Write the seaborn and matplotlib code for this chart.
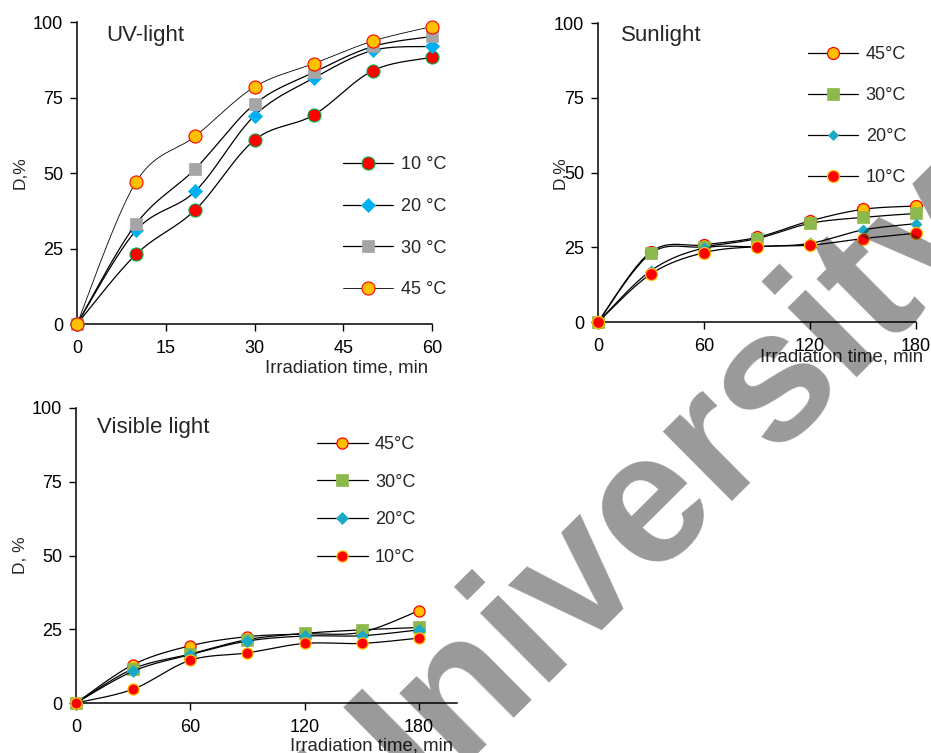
import numpy as np
import pandas as pd
import matplotlib
matplotlib.use("Agg")
import matplotlib.pyplot as plt
import seaborn as sns
from matplotlib.lines import Line2D

sns.set_theme(style="ticks")
plt.rcParams['font.family'] = ['Liberation Sans', 'DejaVu Sans']

# ---------------- data ----------------
uv_time = [0, 10, 20, 30, 40, 50, 60]
uv_10 = [0, 23.1, 37.8, 60.9, 69.2, 83.9, 88.3]
uv_20 = [0, 31.0, 44.0, 69.0, 81.4, 90.6, 91.9]
uv_30 = [0, 33.2, 51.4, 72.8, 83.3, 91.9, 95.2]
uv_45 = [0, 47.1, 62.2, 78.5, 86.2, 93.7, 98.5]
uv_labels = ["10 °C", "20 °C", "30 °C", "45 °C"]

sun_time = [0, 30, 60, 90, 120, 150, 180]
sun_45 = [0, 23.5, 25.8, 28.3, 33.8, 37.7, 38.8]
sun_30 = [0, 23.0, 25.2, 27.9, 33.0, 35.0, 36.3]
sun_20 = [0, 17.2, 24.7, 25.2, 26.3, 30.8, 32.9]
sun_10 = [0, 16.1, 23.2, 25.2, 25.7, 27.9, 29.7]

vis_time = [0, 30, 60, 90, 120, 150, 180]
vis_45 = [0, 13.0, 19.4, 22.5, 23.4, 24.0, 31.3]
vis_30 = [0, 11.6, 16.6, 21.5, 23.6, 24.8, 25.6]
vis_20 = [0, 10.8, 16.4, 21.0, 22.7, 22.8, 24.8]
vis_10 = [0, 4.7, 14.5, 17.0, 20.2, 20.2, 22.0]
sv_labels = ["45°C", "30°C", "20°C", "10°C"]

uv_ticks = [0, 15, 30, 45, 60]
long_ticks = [0, 60, 120, 180]
y_ticks = [0, 25, 50, 75, 100]

# ---------------- styles ----------------
ORANGE = "#FFC000"
RED = "#FF0000"
GREEN_EDGE = "#00B050"
BLUE = "#00B0F0"
GREY = "#A5A5A5"
GREEN = "#8CB84C"
TEAL = "#19AAC8"

uv_styles = [
    dict(marker="o", s=9.4, fc=RED, ec=GREEN_EDGE, lw=0.8),
    dict(marker="D", s=7.2, fc=BLUE, ec=BLUE, lw=0.5),
    dict(marker="s", s=8.6, fc=GREY, ec=GREY, lw=0.5),
    dict(marker="o", s=9.4, fc=ORANGE, ec=RED, lw=0.8),
]
sun_styles = [
    dict(marker="o", s=8.6, fc=ORANGE, ec=RED, lw=0.9),
    dict(marker="s", s=8.6, fc=GREEN, ec=GREEN, lw=0.5),
    dict(marker="D", s=5.6, fc=TEAL, ec=TEAL, lw=0.5),
    dict(marker="o", s=8.6, fc=RED, ec=ORANGE, lw=0.9),
]
vis_styles = [
    dict(marker="o", s=8.0, fc=ORANGE, ec=RED, lw=0.9),
    dict(marker="s", s=8.0, fc=GREEN, ec=GREEN, lw=0.5),
    dict(marker="D", s=6.0, fc=TEAL, ec=TEAL, lw=0.5),
    dict(marker="o", s=8.0, fc=RED, ec=ORANGE, lw=0.9),
]

W, H = 931, 753
fig = plt.figure(figsize=(W / 100, H / 100), dpi=100)


def px_axes(l, r, t, b):
    return fig.add_axes([l / W, 1 - b / H, (r - l) / W, (b - t) / H])


def smooth(x, y, n=24):
    x = np.asarray(x, float)
    y = np.asarray(y, float)
    P = np.column_stack([x, y])
    P = np.vstack([P[0], P, P[-1]])
    t = np.linspace(0, 1, n)[:, None]
    out = []
    for i in range(len(x) - 1):
        p0, p1, p2, p3 = P[i], P[i + 1], P[i + 2], P[i + 3]
        c1 = p1 + (p2 - p0) / 6
        c2 = p2 - (p3 - p1) / 6
        seg = ((1 - t) ** 3) * p1 + 3 * ((1 - t) ** 2) * t * c1 + 3 * (1 - t) * t ** 2 * c2 + t ** 3 * p2
        out.append(seg if i == 0 else seg[1:])
    out = np.vstack(out)
    return out[:, 0], out[:, 1]


def draw_panel(ax, xs, series, styles, labels, line_ws):
    handles = []
    for k, (ys, st, lab, lw) in enumerate(zip(series, styles, labels, line_ws)):
        sx, sy = smooth(xs, ys)
        df = pd.DataFrame({"x": sx, "y": sy})
        sns.lineplot(data=df, x="x", y="y", ax=ax, color="black", lw=lw,
                     sort=False, estimator=None, zorder=3 + 2 * k)
        pts = pd.DataFrame({"x": xs, "y": ys})
        sns.scatterplot(data=pts, x="x", y="y", ax=ax, marker=st["marker"],
                        s=st["s"] ** 2, color=st["fc"], edgecolor=st["ec"],
                        linewidth=st["lw"], zorder=4 + 2 * k, clip_on=False)
        handles.append(Line2D([], [], color="black", lw=lw, marker=st["marker"],
                              markersize=st["s"], markerfacecolor=st["fc"],
                              markeredgecolor=st["ec"], markeredgewidth=st["lw"]))
    return handles


def style_axes(ax, xlim, xticks):
    ax.set_xlim(*xlim)
    ax.set_ylim(0, 100)
    ax.set_xticks(xticks)
    ax.set_yticks(y_ticks)
    sns.despine(ax=ax)
    for sp in ("left", "bottom"):
        ax.spines[sp].set_linewidth(1.1)
        ax.spines[sp].set_color("black")
    ax.tick_params(direction="out", length=5, width=1.0, color="black",
                   labelsize=13, labelcolor="black", pad=5)
    ax.tick_params(axis="x", pad=6.5)
    ax.set_facecolor("white")


LEG = dict(loc="upper left", frameon=False, fontsize=13, handlelength=2.8,
           handletextpad=0.4, borderaxespad=0, borderpad=0)

# ---------------- UV panel ----------------
ax1 = px_axes(77, 432, 22, 324)
h1 = draw_panel(ax1, uv_time, [uv_10, uv_20, uv_30, uv_45], uv_styles, uv_labels,
                [0.9, 0.9, 0.9, 0.6])
style_axes(ax1, (0, 60), uv_ticks)
ax1.text(4.9, 93.7, "UV-light", fontsize=16, va="baseline", ha="left")
ax1.legend(h1, uv_labels, bbox_to_anchor=(0.749, 0.556), labelspacing=1.37, **LEG)
ax1.set_xlabel("Irradiation time, min", fontsize=13.4, ha="right", va="top")
ax1.xaxis.set_label_coords(0.989, -0.119)
ax1.set_ylabel("D,%", fontsize=12.5)
ax1.yaxis.set_label_coords(-0.138, 0.5)

# ---------------- Sunlight panel ----------------
ax2 = px_axes(598, 916, 23, 322)
h2 = draw_panel(ax2, sun_time, [sun_45, sun_30, sun_20, sun_10], sun_styles, sv_labels,
                [0.9] * 4)
style_axes(ax2, (0, 180), long_ticks)
ax2.text(13, 94, "Sunlight", fontsize=16, va="baseline", ha="left")
ax2.legend(h2, sv_labels, bbox_to_anchor=(0.660, 0.923), labelspacing=1.33, **LEG)
ax2.set_xlabel("Irradiation time, min", fontsize=13.4, ha="right", va="top")
ax2.xaxis.set_label_coords(1.022, -0.090)
ax2.set_ylabel("D,%", fontsize=12.5)
ax2.yaxis.set_label_coords(-0.094, 0.5)

# ---------------- Visible panel ----------------
ax3 = px_axes(76, 457, 408, 703)
h3 = draw_panel(ax3, vis_time, [vis_45, vis_30, vis_20, vis_10], vis_styles, sv_labels,
                [0.9] * 4)
style_axes(ax3, (0, 200), long_ticks)
ax3.text(11, 91.5, "Visible light", fontsize=16, va="baseline", ha="left")
ax3.legend(h3, sv_labels, bbox_to_anchor=(0.633, 0.905), labelspacing=1.145, **LEG)
ax3.set_xlabel("Irradiation time, min", fontsize=13.4, ha="right", va="top")
ax3.xaxis.set_label_coords(0.99, -0.118)
ax3.set_ylabel("D, %", fontsize=12.5)
ax3.yaxis.set_label_coords(-0.126, 0.5)

# ---------------- watermark ----------------
fig.text(647 / W, 1 - 507 / H, "University", fontsize=133.6, fontweight="bold",
         color="black", alpha=0.4, rotation=44.8, rotation_mode="anchor",
         ha="center", va="center", zorder=100)

fig.savefig("out.png", dpi=100, facecolor="white")
